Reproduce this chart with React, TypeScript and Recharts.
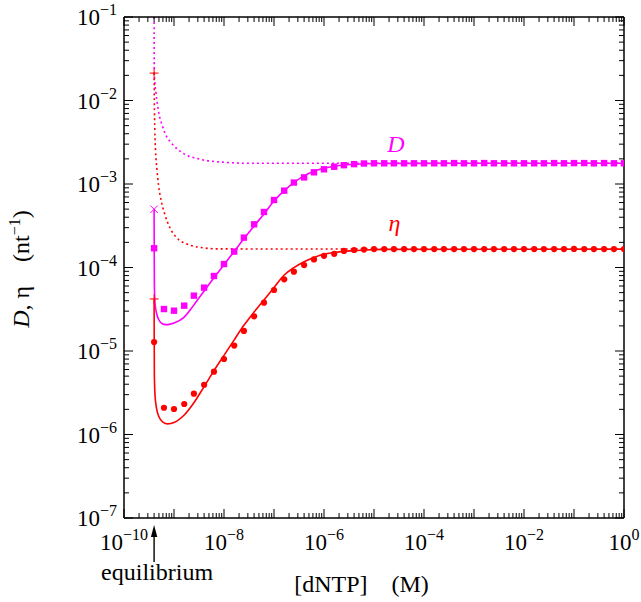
import React from "react";
import { ComposedChart, Line, Scatter, XAxis, YAxis } from "recharts";

// ---------- data ----------
const EQUILIBRIUM = 4.0e-10;

const X_MAJOR = [1e-10, 1e-9, 1e-8, 1e-7, 1e-6, 1e-5, 1e-4, 1e-3, 1e-2, 1e-1, 1];
const X_LABEL_EXPS = [-10, -8, -6, -4, -2, 0];
const Y_MAJOR = [1e-7, 1e-6, 1e-5, 1e-4, 1e-3, 1e-2, 1e-1];
const Y_LABEL_EXPS = [-7, -6, -5, -4, -3, -2, -1];
const MINOR_MULTIPLIERS = [2, 3, 4, 5, 6, 7, 8, 9];

// measured points: [dNTP] (M)
const DNTP = [
  4.0e-10, 6.3e-10,
  1.0e-9, 1.6e-9, 2.5e-9, 4.0e-9, 6.3e-9,
  1.0e-8, 1.6e-8, 2.5e-8, 4.0e-8, 6.3e-8,
  1.0e-7, 1.6e-7, 2.5e-7, 4.0e-7, 6.3e-7,
  1.0e-6, 1.6e-6, 2.5e-6, 4.0e-6, 6.3e-6,
  1.0e-5, 1.6e-5, 2.5e-5, 4.0e-5, 6.3e-5,
  1.0e-4, 1.6e-4, 2.5e-4, 4.0e-4, 6.3e-4,
  1.0e-3, 1.6e-3, 2.5e-3, 4.0e-3, 6.3e-3,
  1.0e-2, 1.6e-2, 2.5e-2, 4.0e-2, 6.3e-2,
  1.0e-1, 1.6e-1, 2.5e-1, 4.0e-1, 6.3e-1,
  1.0,
];

const D_MEASURED = [
  1.70e-4, 3.18e-5,
  3.04e-5, 3.49e-5, 4.60e-5, 5.74e-5, 7.91e-5,
  1.10e-4, 1.55e-4, 2.28e-4, 3.29e-4, 4.62e-4,
  6.43e-4, 8.32e-4, 1.04e-3, 1.20e-3, 1.38e-3,
  1.50e-3, 1.61e-3, 1.68e-3, 1.73e-3, 1.76e-3,
  1.77e-3, 1.77e-3, 1.77e-3, 1.77e-3, 1.77e-3,
  1.77e-3, 1.77e-3, 1.77e-3, 1.78e-3, 1.77e-3,
  1.77e-3, 1.78e-3, 1.77e-3, 1.77e-3, 1.77e-3,
  1.77e-3, 1.77e-3, 1.77e-3, 1.78e-3, 1.77e-3,
  1.78e-3, 1.78e-3, 1.77e-3, 1.78e-3, 1.77e-3,
  1.77e-3,
];

const ETA_MEASURED = [
  1.28e-5, 2.09e-6,
  2.02e-6, 2.32e-6, 3.08e-6, 3.94e-6, 5.65e-6,
  8.02e-6, 1.16e-5, 1.74e-5, 2.60e-5, 3.79e-5,
  5.38e-5, 7.21e-5, 8.91e-5, 1.07e-4, 1.25e-4,
  1.38e-4, 1.46e-4, 1.58e-4, 1.62e-4, 1.64e-4,
  1.66e-4, 1.66e-4, 1.66e-4, 1.66e-4, 1.66e-4,
  1.66e-4, 1.66e-4, 1.66e-4, 1.66e-4, 1.66e-4,
  1.66e-4, 1.66e-4, 1.66e-4, 1.66e-4, 1.66e-4,
  1.66e-4, 1.66e-4, 1.66e-4, 1.66e-4, 1.66e-4,
  1.67e-4, 1.66e-4, 1.66e-4, 1.66e-4, 1.66e-4,
  1.66e-4,
];

// theory curves (solid)
const D_THEORY_X = [
  4.0e-10, 4.02e-10, 4.05e-10, 4.17e-10, 4.47e-10, 5.0e-10, 6.0e-10, 7.5e-10,
  1.0e-9, 1.6e-9, 2.5e-9, 4.0e-9, 6.3e-9,
  1.0e-8, 1.6e-8, 2.5e-8, 4.0e-8, 6.3e-8,
  1.0e-7, 1.6e-7, 2.5e-7, 4.0e-7, 6.3e-7,
  1.0e-6, 1.6e-6, 2.5e-6, 4.0e-6, 6.3e-6,
  1.0e-5, 1.0e-3, 1.0,
];
const D_THEORY_Y = [
  4.98e-4, 1.62e-4, 6.17e-5, 3.76e-5, 2.85e-5, 2.35e-5, 2.10e-5, 2.07e-5,
  2.16e-5, 2.55e-5, 3.56e-5, 5.24e-5, 7.55e-5,
  1.08e-4, 1.56e-4, 2.21e-4, 3.14e-4, 4.38e-4,
  6.25e-4, 8.32e-4, 1.04e-3, 1.25e-3, 1.42e-3,
  1.54e-3, 1.63e-3, 1.69e-3, 1.72e-3, 1.74e-3,
  1.76e-3, 1.77e-3, 1.77e-3,
];

const ETA_THEORY_X = [
  4.0e-10, 4.02e-10, 4.05e-10, 4.17e-10, 4.47e-10, 5.0e-10, 6.0e-10, 7.5e-10,
  1.0e-9, 1.6e-9, 2.5e-9, 4.0e-9, 6.3e-9,
  1.0e-8, 1.6e-8, 2.5e-8, 4.0e-8, 6.3e-8,
  1.0e-7, 1.6e-7, 2.5e-7, 4.0e-7, 6.3e-7,
  1.0e-6, 1.6e-6, 2.5e-6, 4.0e-6, 6.3e-6,
  1.6e-5, 1.0,
];
const ETA_THEORY_Y = [
  4.2e-5, 1.36e-5, 5.16e-6, 2.97e-6, 2.07e-6, 1.63e-6, 1.41e-6, 1.34e-6,
  1.39e-6, 1.71e-6, 2.40e-6, 3.74e-6, 5.81e-6,
  8.87e-6, 1.36e-5, 2.03e-5, 2.93e-5, 4.08e-5,
  5.75e-5, 8.13e-5, 9.95e-5, 1.17e-4, 1.32e-4,
  1.44e-4, 1.51e-4, 1.56e-4, 1.59e-4, 1.62e-4,
  1.65e-4, 1.66e-4,
];

// asymptotic curves (dotted)
const D_ASYMP_X = [
  4.0e-10, 4.04e-10, 4.37e-10, 4.85e-10, 5.94e-10, 6.61e-10, 8.99e-10,
  1.53e-9, 3.31e-9, 7.14e-9, 3.31e-8, 1.0,
];
const D_ASYMP_Y = [
  1.0e-1, 2.12e-2, 1.22e-2, 7.69e-3, 4.85e-3, 4.05e-3, 3.07e-3,
  2.33e-3, 1.98e-3, 1.85e-3, 1.77e-3, 1.77e-3,
];

const ETA_ASYMP_X = [
  4.0e-10, 4.04e-10, 4.13e-10, 4.27e-10, 4.57e-10, 4.90e-10, 5.50e-10,
  6.61e-10, 8.32e-10, 1.15e-9, 1.82e-9, 3.31e-9, 8.32e-9, 1.0,
];
const ETA_ASYMP_Y = [
  2.13e-2, 1.01e-2, 4.44e-3, 2.55e-3, 1.47e-3, 9.73e-4, 6.43e-4,
  4.26e-4, 2.97e-4, 2.25e-4, 1.91e-4, 1.74e-4, 1.67e-4, 1.66e-4,
];

// values at equilibrium
const ETA_ASYMP_EQ = [{ x: 4.0e-10, y: 2.13e-2 }];
const D_EQ = [{ x: 4.0e-10, y: 4.98e-4 }];
const ETA_EQ = [{ x: 4.0e-10, y: 4.2e-5 }];

// ---------- helpers ----------
const zip = (xs: number[], ys: number[]) => xs.map((x, i) => ({ x, y: ys[i] }));
const withMinors = (majors: number[]) =>
  majors.flatMap((m, i) => (i < majors.length - 1 ? [m, ...MINOR_MULTIPLIERS.map((k) => k * m)] : [m]));

const X_TICKS = withMinors(X_MAJOR);
const Y_TICKS = withMinors(Y_MAJOR);

const dMeasured = zip(DNTP, D_MEASURED);
const etaMeasured = zip(DNTP, ETA_MEASURED);
const dTheory = zip(D_THEORY_X, D_THEORY_Y);
const etaTheory = zip(ETA_THEORY_X, ETA_THEORY_Y);
const dAsymp = zip(D_ASYMP_X, D_ASYMP_Y);
const etaAsymp = zip(ETA_ASYMP_X, ETA_ASYMP_Y);

const MAGENTA = "#ff00ff";
const RED = "#ff0000";
const FONT = '"Liberation Serif", "Times New Roman", Times, serif';
const MAJOR_LEN = 9;
const MINOR_LEN = 5;
const TICK_FONT = 23;
const SUP_FONT = 16;

const isMajor = (v: number) => Math.abs(Math.log10(v) - Math.round(Math.log10(v))) < 1e-6;
const expOf = (v: number) => Math.round(Math.log10(v));
const fmtExp = (e: number) => (e < 0 ? "\u2212" + Math.abs(e) : String(e));

function BottomTick(props: any) {
  const { x, y, payload } = props;
  const v = payload.value;
  const major = isMajor(v);
  const e = expOf(v);
  const len = major ? MAJOR_LEN : MINOR_LEN;
  const isEq = Math.abs(v - EQUILIBRIUM) / EQUILIBRIUM < 1e-6;
  return (
    <g>
      <line x1={x} x2={x} y1={y} y2={y - len} stroke="#000" strokeWidth={1} />
      {major && X_LABEL_EXPS.includes(e) && (
        <text x={x} y={y + 32} textAnchor="middle" fontFamily={FONT} fontSize={TICK_FONT} fill="#000">
          10
          <tspan dy={-10} fontSize={SUP_FONT}>
            {fmtExp(e)}
          </tspan>
        </text>
      )}
      {isEq && (
        <g>
          <line x1={x} x2={x} y1={y + 44} y2={y + 16} stroke="#000" strokeWidth={1.4} />
          <path d={`M${x},${y + 7} L${x - 3.2},${y + 19} L${x + 3.2},${y + 19} Z`} fill="#000" />
          <text x={x + 3} y={y + 62} textAnchor="middle" fontFamily={FONT} fontSize={24} fill="#000">
            equilibrium
          </text>
        </g>
      )}
    </g>
  );
}

function TopTick(props: any) {
  const { x, y, payload } = props;
  const len = isMajor(payload.value) ? MAJOR_LEN : MINOR_LEN;
  return <line x1={x} x2={x} y1={y} y2={y + len} stroke="#000" strokeWidth={1} />;
}

function LeftTick(props: any) {
  const { x, y, payload } = props;
  const v = payload.value;
  const major = isMajor(v);
  const e = expOf(v);
  const len = major ? MAJOR_LEN : MINOR_LEN;
  return (
    <g>
      <line x1={x} x2={x + len} y1={y} y2={y} stroke="#000" strokeWidth={1} />
      {major && Y_LABEL_EXPS.includes(e) && (
        <text x={x - 7} y={y + 8} textAnchor="end" fontFamily={FONT} fontSize={TICK_FONT} fill="#000">
          10
          <tspan dy={-10} fontSize={SUP_FONT}>
            {fmtExp(e)}
          </tspan>
        </text>
      )}
    </g>
  );
}

function RightTick(props: any) {
  const { x, y, payload } = props;
  const len = isMajor(payload.value) ? MAJOR_LEN : MINOR_LEN;
  return <line x1={x} x2={x - len} y1={y} y2={y} stroke="#000" strokeWidth={1} />;
}

const SquareMark = (p: any) => <rect x={p.cx - 3.2} y={p.cy - 3.2} width={6.4} height={6.4} fill={MAGENTA} />;
const CircleMark = (p: any) => <circle cx={p.cx} cy={p.cy} r={3.1} fill={RED} />;
const PlusMark = (p: any) => (
  <path d={`M${p.cx - 4.5},${p.cy} H${p.cx + 4.5} M${p.cx},${p.cy - 4.5} V${p.cy + 4.5}`} stroke={RED} strokeWidth={1} />
);
const CrossMark = (p: any) => (
  <path
    d={`M${p.cx - 3.8},${p.cy - 3.8} L${p.cx + 3.8},${p.cy + 3.8} M${p.cx - 3.8},${p.cy + 3.8} L${p.cx + 3.8},${p.cy - 3.8}`}
    stroke={MAGENTA}
    strokeWidth={1}
  />
);

const W = 641;
const H = 602;
// plot area: left 124, top 17, width 500, height 501 (axes take 1px each)
const MARGIN = { top: 16, right: 16, bottom: 83, left: 123 };
const AXIS_LINE = { stroke: "#000", strokeWidth: 1.5 };

export default function App() {
  return (
    <div style={{ position: "absolute", left: 0, top: 0, width: W, height: H }}>
      <ComposedChart width={W} height={H} margin={MARGIN}>
        <XAxis
          dataKey="x"
          type="number"
          scale="log"
          domain={[1e-10, 1]}
          allowDataOverflow
          ticks={X_TICKS}
          interval={0}
          tick={(p: any) => <BottomTick {...p} />}
          tickLine={false}
          tickSize={0}
          tickMargin={0}
          height={1}
          axisLine={AXIS_LINE}
        />
        <XAxis
          xAxisId="top"
          orientation="top"
          dataKey="x"
          type="number"
          scale="log"
          domain={[1e-10, 1]}
          allowDataOverflow
          ticks={X_TICKS}
          interval={0}
          tick={(p: any) => <TopTick {...p} />}
          tickLine={false}
          tickSize={0}
          tickMargin={0}
          height={1}
          axisLine={AXIS_LINE}
        />
        <YAxis
          dataKey="y"
          type="number"
          scale="log"
          domain={[1e-7, 1e-1]}
          allowDataOverflow
          ticks={Y_TICKS}
          interval={0}
          tick={(p: any) => <LeftTick {...p} />}
          tickLine={false}
          tickSize={0}
          tickMargin={0}
          width={1}
          axisLine={AXIS_LINE}
        />
        <YAxis
          yAxisId="right"
          orientation="right"
          dataKey="y"
          type="number"
          scale="log"
          domain={[1e-7, 1e-1]}
          allowDataOverflow
          ticks={Y_TICKS}
          interval={0}
          tick={(p: any) => <RightTick {...p} />}
          tickLine={false}
          tickSize={0}
          tickMargin={0}
          width={1}
          axisLine={AXIS_LINE}
        />

        <Line data={dAsymp} dataKey="y" type="monotone" stroke={MAGENTA} strokeWidth={1.6} strokeDasharray="2 3" dot={false} activeDot={false} isAnimationActive={false} />
        <Line data={etaAsymp} dataKey="y" type="monotone" stroke={RED} strokeWidth={1.6} strokeDasharray="2 3" dot={false} activeDot={false} isAnimationActive={false} />
        <Line data={dTheory} dataKey="y" type="monotone" stroke={MAGENTA} strokeWidth={1.6} dot={false} activeDot={false} isAnimationActive={false} />
        <Line data={etaTheory} dataKey="y" type="monotone" stroke={RED} strokeWidth={1.6} dot={false} activeDot={false} isAnimationActive={false} />

        <Scatter data={dMeasured} dataKey="y" shape={SquareMark} isAnimationActive={false} />
        <Scatter data={etaMeasured} dataKey="y" shape={CircleMark} isAnimationActive={false} />
        <Scatter data={ETA_ASYMP_EQ} dataKey="y" shape={PlusMark} isAnimationActive={false} />
        <Scatter data={D_EQ} dataKey="y" shape={CrossMark} isAnimationActive={false} />
        <Scatter data={ETA_EQ} dataKey="y" shape={PlusMark} isAnimationActive={false} />

        <g fontFamily={FONT}>
          <text x={396} y={152} textAnchor="middle" fontSize={24} fontStyle="italic" fill={MAGENTA}>
            D
          </text>
          <text x={394.5} y={231} textAnchor="middle" fontSize={24} fontStyle="italic" fill={RED}>
            η
          </text>
          <text x={361.5} y={592} textAnchor="middle" fontSize={24} fill="#000" xmlSpace="preserve" style={{ whiteSpace: "pre" }}>
            {"[dNTP]    (M)"}
          </text>
          <text
            x={29}
            y={269}
            transform="rotate(-90 29 269)"
            textAnchor="middle"
            fontSize={24}
            fill="#000"
            xmlSpace="preserve"
            style={{ whiteSpace: "pre" }}
          >
            <tspan fontStyle="italic">D</tspan>
            {", η    (nt"}
            <tspan dy={-9} fontSize={16}>
              {"\u22121"}
            </tspan>
            <tspan dy={9}>)</tspan>
          </text>
        </g>
      </ComposedChart>
    </div>
  );
}
